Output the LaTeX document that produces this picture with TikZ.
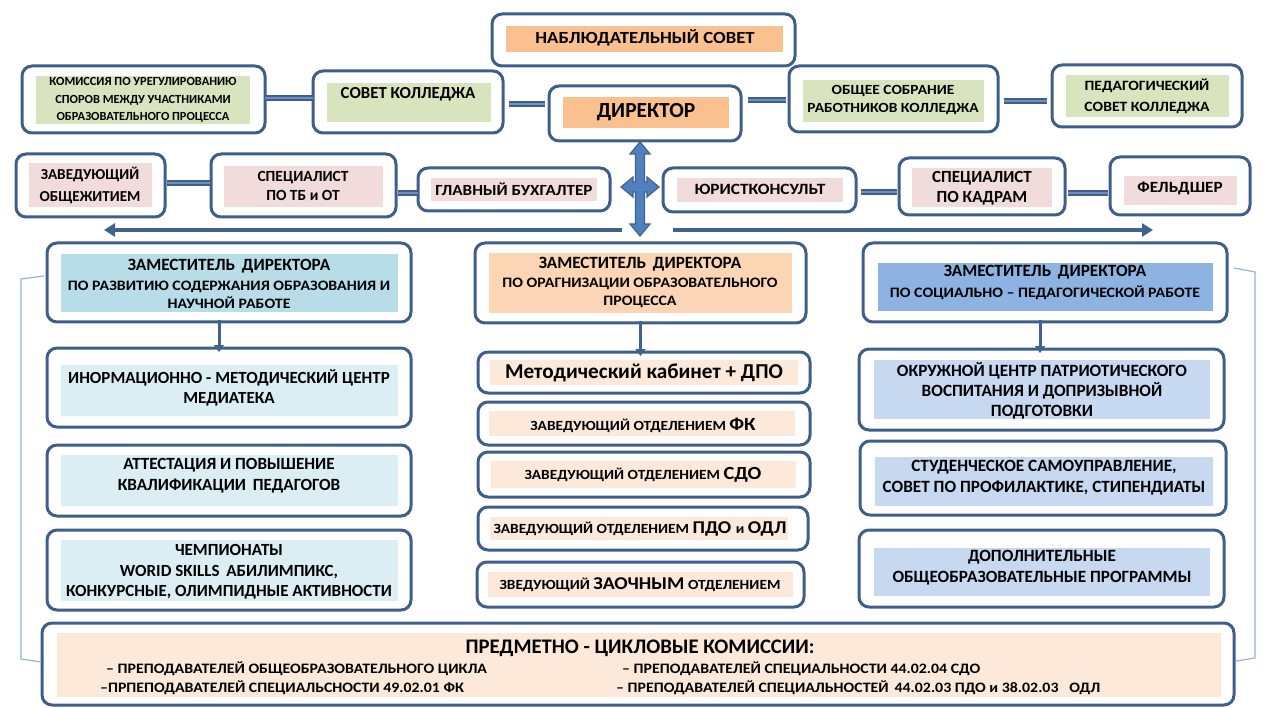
\documentclass[tikz,border=0pt]{standalone}
\usepackage{fontspec}
\setmainfont{Carlito}
\newfontfamily\widefam{Carlito}[FakeStretch=1.1]
\usetikzlibrary{arrows.meta,calc}
\definecolor{bd}{HTML}{3F5E8C}
\definecolor{orng}{HTML}{FAC090}
\definecolor{grn}{HTML}{D7E4BD}
\definecolor{pnk}{HTML}{F2DCDB}
\definecolor{ldep}{HTML}{B7DEE8}
\definecolor{lbox}{HTML}{DAEEF3}
\definecolor{mdep}{HTML}{FCD5B5}
\definecolor{mbox}{HTML}{FDE9D9}
\definecolor{rdep}{HTML}{8DB3E2}
\definecolor{rbox}{HTML}{C6D9F1}
\definecolor{afill}{HTML}{4F81BD}
\definecolor{adark}{HTML}{41618E}
\definecolor{brk}{HTML}{95B3D7}
\definecolor{dlight}{HTML}{6F8FC0}
\newcommand\OB[5]{\node[outer, minimum width={(#4-#2)*1pt}, minimum height={(#5-#3)*1pt}] (#1) at ({(#2+#4)/2},{(#3+#5)/2}) {};}
\newcommand\IB[5]{\fill[#1] (#2,#3) rectangle (#4,#5);}
\newcommand\fs[2]{\fontsize{#1}{#2}\selectfont\bfseries}
\newcommand\fw[2]{\widefam\fontsize{#1}{#2}\selectfont\bfseries}
\begin{document}
\begin{tikzpicture}[x=1pt,y=-1pt,
  outer/.style={draw=bd, line width=3pt, rounded corners=10pt, fill=white, inner sep=0pt, outer sep=0pt},
  txt/.style={align=center, inner sep=0pt, text=black},
  dbl/.style={draw=bd, line width=2.2pt, double=dlight, double distance=2pt},
  harr/.style={draw=adark, line width=4.5pt, -{Triangle[length=11pt,width=13pt]}},
  darr/.style={draw=adark, line width=3pt, -{Triangle[length=7pt,width=10pt]}},
  brack/.style={draw=brk, line width=1.2pt}]
\useasboundingbox (0,0) rectangle (1268,708);
\fill[white] (0,0) rectangle (1268,708);

% top row
\OB{nab}{492}{14}{795}{66}
\IB{orng}{506}{26}{783}{52}
\node[txt,font=\fw{17}{20}] (tnab) at (645,38) {НАБЛЮДАТЕЛЬНЫЙ СОВЕТ};

\OB{dir}{549}{86}{741}{141}
\IB{orng}{563}{97}{729}{128}
\node[txt,font=\fs{21.5}{25}] (tdir) at (646,112) {ДИРЕКТОР};

\OB{kom}{22}{66}{265}{133}
\IB{grn}{36}{76}{250}{124}
\node[txt,font=\fs{12.4}{17.5}] (tkom) at (143,100) {КОМИССИЯ ПО УРЕГУЛИРОВАНИЮ\\СПОРОВ МЕЖДУ УЧАСТНИКАМИ\\ОБРАЗОВАТЕЛЬНОГО ПРОЦЕССА};

\OB{sov}{313}{71}{503}{133}
\IB{grn}{327}{83}{491}{122}
\node[txt,font=\fs{16.8}{20}] (tsov) at (408,94) {СОВЕТ КОЛЛЕДЖА};

\OB{obs}{789}{66}{998}{132}
\IB{grn}{803}{80}{984}{122}
\node[txt,font=\fw{14}{17.5}] (tobs) at (893,100) {ОБЩЕЕ СОБРАНИЕ\\РАБОТНИКОВ КОЛЛЕДЖА};

\OB{ped}{1052}{65}{1242}{127}
\IB{grn}{1066}{75}{1229}{117}
\node[txt,font=\fw{14.2}{21}] (tped) at (1147,96) {ПЕДАГОГИЧЕСКИЙ\\СОВЕТ КОЛЛЕДЖА};

\draw[dbl] (kom.east |- 0,98) -- (sov.west |- 0,98);
\draw[dbl] ([xshift=6pt]sov.east |- 0,104) -- ([xshift=-4pt]dir.west |- 0,104);
\draw[dbl] ([xshift=7pt]dir.east |- 0,100) -- ([xshift=-3pt]obs.west |- 0,100);
\draw[dbl] ([xshift=6pt]obs.east |- 0,101) -- ([xshift=-5pt]ped.west |- 0,101);

% second row
\OB{zav}{16}{154}{165}{217}
\IB{pnk}{29}{163}{152}{207}
\node[txt,font=\fs{15.2}{22}] (tzav) at (90,185) {ЗАВЕДУЮЩИЙ\\ОБЩЕЖИТИЕМ};

\OB{spt}{211}{154}{396}{217}
\IB{pnk}{224}{166}{383}{207}
\node[txt,font=\fs{15.5}{19}] (tspt) at (303,186) {СПЕЦИАЛИСТ\\ПО ТБ и ОТ};

\OB{bug}{418}{168}{610}{211}
\IB{pnk}{431}{178}{597}{201}
\node[txt,font=\fw{15.5}{18}] (tbug) at (514,189) {ГЛАВНЫЙ БУХГАЛТЕР};

\OB{yur}{663}{168}{856}{212}
\IB{pnk}{677}{178}{843}{202}
\node[txt,font=\fw{15.7}{18}] (tyur) at (760,189) {ЮРИСТКОНСУЛЬТ};

\OB{kad}{899}{158}{1065}{215}
\IB{pnk}{912}{168}{1052}{207}
\node[txt,font=\fs{17}{19.5}] (tkad) at (982,188) {СПЕЦИАЛИСТ\\ПО КАДРАМ};

\OB{fel}{1110}{157}{1250}{215}
\IB{pnk}{1124}{176}{1237}{205}
\node[txt,font=\fw{15.6}{18}] (tfel) at (1180,188) {ФЕЛЬДШЕР};

\draw[dbl] ([xshift=2pt]zav.east |- 0,183) -- ([xshift=-1pt]spt.west |- 0,183);
\draw[dbl] ([xshift=2pt]spt.east |- 0,193) -- (bug.west |- 0,193);
\draw[dbl] ([xshift=5pt]yur.east |- 0,192) -- ([xshift=-2pt]kad.west |- 0,192);
\draw[dbl] ([xshift=3pt]kad.east |- 0,193) -- ([xshift=-2pt]fel.west |- 0,193);

% four-way arrow
\filldraw[fill=afill, draw=adark, line width=1.2pt, line join=miter]
 (640,142) -- (650,154) -- (644.5,154) -- (644.5,182) -- (647,182) -- (647,177) -- (659,187)
 -- (647,197) -- (647,192) -- (644.5,192) -- (644.5,224) -- (650,224) -- (640,236)
 -- (630,224) -- (635.5,224) -- (635.5,192) -- (633,192) -- (633,197) -- (621,187)
 -- (633,177) -- (633,182) -- (635.5,182) -- (635.5,154) -- (630,154) -- cycle;

% long horizontal arrows
\coordinate (hl0) at (622,230);
\coordinate (hl1) at (104,230);
\coordinate (hr0) at (673,230);
\coordinate (hr1) at (1153,230);
\draw[harr] (hl0) -- (hl1);
\draw[harr] (hr0) -- (hr1);

% deputies
\OB{ld}{47}{243}{411}{322}
\IB{ldep}{61}{254}{398}{312}
\node[txt,font=\fs{17.2}{18.5}] (tld) at (229,266) {ЗАМЕСТИТЕЛЬ\, ДИРЕКТОРА};
\node[txt,font=\fw{14.4}{18.5}] (tld2) at (229,295) {ПО РАЗВИТИЮ СОДЕРЖАНИЯ ОБРАЗОВАНИЯ И\\НАУЧНОЙ РАБОТЕ};

\OB{md}{475}{243}{806}{323}
\IB{mdep}{489}{253}{792}{313}
\node[txt,font=\fs{17.2}{18.5}] (tmd) at (640,264) {ЗАМЕСТИТЕЛЬ\, ДИРЕКТОРА};
\node[txt,font=\fw{14.4}{18.5}] (tmd2) at (640,293) {ПО ОРАГНИЗАЦИИ ОБРАЗОВАТЕЛЬНОГО\\ПРОЦЕССА};

\OB{rd}{863}{243}{1227}{322}
\IB{rdep}{878}{263}{1213}{311}
\node[txt,font=\fs{17.2}{18.5}] (trd) at (1045,272) {ЗАМЕСТИТЕЛЬ\, ДИРЕКТОРА};
\node[txt,font=\fw{14.4}{18.5}] (trd2) at (1045,293) {ПО СОЦИАЛЬНО – ПЕДАГОГИЧЕСКОЙ РАБОТЕ};

% left column
\OB{inf}{47}{348}{411}{427}
\IB{lbox}{61}{365}{398}{416}
\node[txt,font=\fs{17}{20}] (tinf) at (229,388) {ИНОРМАЦИОННО - МЕТОДИЧЕСКИЙ ЦЕНТР\\МЕДИАТЕКА};

\OB{att}{47}{445}{411}{516}
\IB{lbox}{61}{455}{398}{506}
\node[txt,font=\fs{17.1}{21}] (tatt) at (229,476) {АТТЕСТАЦИЯ И ПОВЫШЕНИЕ\\КВАЛИФИКАЦИИ\, ПЕДАГОГОВ};

\OB{chm}{47}{530}{411}{610}
\IB{lbox}{61}{540}{398}{601}
\node[txt,font=\fs{17}{20.5}] (tchm) at (229,572) {ЧЕМПИОНАТЫ\\WORID SKILLS\, АБИЛИМПИКС,\\КОНКУРСНЫЕ, ОЛИМПИДНЫЕ АКТИВНОСТИ};

% middle column
\OB{mk}{478}{352}{810}{393}
\IB{mbox}{490}{360}{798}{385}
\node[txt,font=\fs{21.2}{24}] (tmk) at (644,373) {Методический кабинет + ДПО};

\OB{fk}{478}{402}{810}{445}
\IB{mbox}{489}{411}{795}{436}
\node[txt,font=\fw{14}{16}] (tfk) at (643,425) {ЗАВЕДУЮЩИЙ ОТДЕЛЕНИЕМ {\fw{18.5}{20}ФК}};

\OB{sdo}{478}{452}{810}{497}
\IB{mbox}{491}{461}{796}{488}
\node[txt,font=\fw{14}{16}] (tsdo) at (643,475) {ЗАВЕДУЮЩИЙ ОТДЕЛЕНИЕМ {\fw{18.5}{20}СДО}};

\OB{pdo}{478}{507}{808}{550}
\IB{mbox}{490}{517}{788}{540}
\node[txt,font=\fw{14}{16}] (tpdo) at (640,529) {ЗАВЕДУЮЩИЙ ОТДЕЛЕНИЕМ {\fw{18}{20}ПДО \fw{14}{16}и \fw{18}{20}ОДЛ}};

\OB{zao}{477}{562}{804}{607}
\IB{mbox}{488}{572}{793}{597}
\node[txt,font=\fw{14}{16}] (tzao) at (640,585) {ЗВЕДУЮЩИЙ {\fw{18}{20}ЗАОЧНЫМ} ОТДЕЛЕНИЕМ};

% right column
\OB{okr}{859}{349}{1224}{430}
\IB{rbox}{874}{360}{1210}{419}
\node[txt,font=\fs{17.2}{20}] (tokr) at (1042,391) {ОКРУЖНОЙ ЦЕНТР ПАТРИОТИЧЕСКОГО\\ВОСПИТАНИЯ И ДОПРИЗЫВНОЙ\\ПОДГОТОВКИ};

\OB{stu}{860}{441}{1226}{515}
\IB{rbox}{875}{457}{1213}{506}
\node[txt,font=\fs{17.2}{21}] (tstu) at (1044,478) {СТУДЕНЧЕСКОЕ САМОУПРАВЛЕНИЕ,\\СОВЕТ ПО ПРОФИЛАКТИКЕ, СТИПЕНДИАТЫ};

\OB{dop}{859}{530}{1224}{607}
\IB{rbox}{874}{548}{1210}{596}
\node[txt,font=\fs{17.2}{21}] (tdop) at (1042,568) {ДОПОЛНИТЕЛЬНЫЕ\\ОБЩЕОБРАЗОВАТЕЛЬНЫЕ ПРОГРАММЫ};

% bottom
\OB{pck}{42}{623}{1234}{705}
\IB{mbox}{57}{633}{1221}{697}
\node[txt,font=\fs{20.7}{24}] (tpck) at (640,648) {ПРЕДМЕТНО - ЦИКЛОВЫЕ КОМИССИИ:};
\node[txt,font=\fw{14.4}{16},anchor=west] (p1) at (106,669) {– ПРЕПОДАВАТЕЛЕЙ ОБЩЕОБРАЗОВАТЕЛЬНОГО ЦИКЛА};
\node[txt,font=\fw{14.4}{16},anchor=west] (p2) at (100,688) {–ПРПЕПОДАВАТЕЛЕЙ СПЕЦИАЛЬСНОСТИ 49.02.01 ФК};
\node[txt,font=\fw{14.4}{16},anchor=west] (p3) at (622,669) {– ПРЕПОДАВАТЕЛЕЙ СПЕЦИАЛЬНОСТИ 44.02.04 СДО};
\node[txt,font=\fw{14.4}{16},anchor=west] (p4) at (616,688) {– ПРЕПОДАВАТЕЛЕЙ СПЕЦИАЛЬНОСТЕЙ\, 44.02.03 ПДО и 38.02.03\,\,\, ОДЛ};

% down arrows
\draw[darr] ([xshift=-10pt,yshift=2pt]ld.south) -- ([xshift=-10pt,yshift=-4pt]ld.south |- inf.north);
\draw[darr] ([yshift=2pt]md.south) -- ([yshift=-4pt]md.south |- mk.north);
\draw[darr] ([xshift=-5pt,yshift=2pt]rd.south) -- ([xshift=-5pt,yshift=-4pt]rd.south |- okr.north);

% brackets
\coordinate (bl0) at (44,276);
\coordinate (bl1) at (21,279);
\coordinate (bl2) at (21,659);
\coordinate (bl3) at (41,662);
\draw[brack] (bl0) -- (bl1) -- (bl2) -- (bl3);
\coordinate (br0) at (1234,268);
\coordinate (br1) at (1255,272);
\coordinate (br2) at (1255,658);
\coordinate (br3) at (1236,661);
\draw[brack] (br0) -- (br1) -- (br2) -- (br3);
\end{tikzpicture}
\end{document}
